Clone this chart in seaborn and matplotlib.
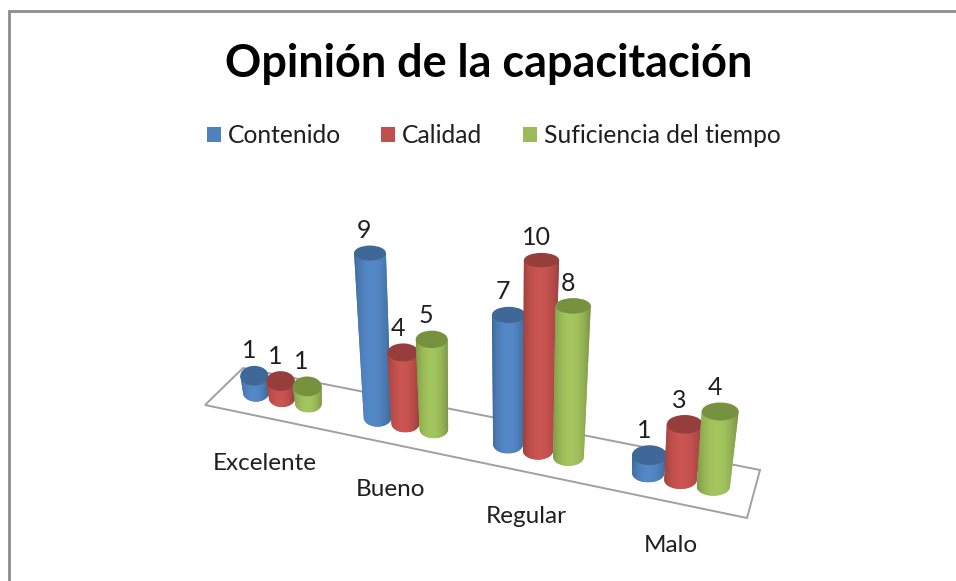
import numpy as np
import pandas as pd
import matplotlib
matplotlib.use("Agg")
import matplotlib.pyplot as plt
import seaborn as sns
from matplotlib.patches import Ellipse, Polygon, Rectangle

categorias = ["Excelente", "Bueno", "Regular", "Malo"]
series = ["Contenido", "Calidad", "Suficiencia del tiempo"]
contenido = [1, 9, 7, 1]
calidad = [1, 4, 10, 3]
suficiencia = [1, 5, 8, 4]

colores = ["#4F81BD", "#C0504D", "#9BBB59"]
colores_tapa = ["#3F6797", "#953E3B", "#76923F"]

sns.set_theme(style="white")
plt.rcParams["font.family"] = ["Lato", "DejaVu Sans"]

df = pd.DataFrame({
    "categoria": categorias * 3,
    "serie": [s for s in series for _ in categorias],
    "valor": contenido + calidad + suficiencia,
})

fig = plt.figure(figsize=(9.56, 5.81), dpi=100)

# bars are built by seaborn on a hidden axes, then redrawn as cylinders
ax_datos = fig.add_axes([0, 0, 1, 1])
sns.barplot(data=df, x="categoria", y="valor", hue="serie", order=categorias,
            hue_order=series, palette=colores, width=0.66, gap=0, saturation=1,
            legend=False, ax=ax_datos)
barras = sorted(ax_datos.patches, key=lambda r: r.get_x())
ax_datos.set_visible(False)

# canvas in image pixels
ax = fig.add_axes([0, 0, 1, 1])
ax.set_axis_off()


# perspective from (category position, value) to pixels
def proyectar(u, v):
    w = 1 - 0.034 * u - 0.0067 * v
    x = (282 + 109.7 * u - 3.3 * v) / w
    y = (398 + 11 * u - 19.5 * v) / w
    return x, y


def color_sombra(hex_color):
    base = np.array(matplotlib.colors.to_rgb(hex_color))
    pos = np.linspace(0, 1, 64)
    factor = 0.80 + 0.28 * np.sin(np.pi * pos) ** 0.7
    factor = factor - 0.05 * pos
    return np.clip(base[None, None, :] * factor[None, :, None], 0, 1)


# outer frame
ax.plot([9, 9, 956], [581, 11, 11], color="#8C8C8C", lw=2, solid_joinstyle="miter", zorder=1)

# floor
ax.add_patch(Polygon([(205, 405), (243, 368), (760, 470), (747, 518)], closed=True,
                     facecolor="white", edgecolor="#A0A0A0", lw=1.4, zorder=2))

orden = 3
for rect in barras:
    u = rect.get_x() + rect.get_width() / 2
    valor = rect.get_height()
    ancho = rect.get_width() / 2
    serie_i = [c.lower() for c in colores].index(matplotlib.colors.to_hex(rect.get_facecolor()[:3]))

    xb, yb = proyectar(u, 0)
    xt, yt = proyectar(u, valor)
    rb = (proyectar(u + ancho, 0)[0] - proyectar(u - ancho, 0)[0]) / 2
    rt = (proyectar(u + ancho, valor)[0] - proyectar(u - ancho, valor)[0]) / 2 * 1.08
    ry_b = 9.0
    ry_t = 10.2 - 0.3 * valor

    t = np.linspace(np.pi, 0, 40)
    xs = np.r_[xb + rb * np.cos(t), xt + rt * np.cos(t[::-1])]
    ys = np.r_[yb + ry_b * np.sin(t), yt + 0 * t]
    cuerpo = Polygon(np.c_[xs, ys], closed=True, facecolor=colores[serie_i],
                     edgecolor="none", zorder=orden)
    ax.add_patch(cuerpo)
    img = ax.imshow(color_sombra(colores[serie_i]), aspect="auto", zorder=orden + 0.1,
                    extent=(min(xb - rb, xt - rt), max(xb + rb, xt + rt), yb + ry_b, yt),
                    interpolation="bilinear")
    img.set_clip_path(cuerpo)
    ax.add_patch(Ellipse((xt, yt), 2 * rt, 2 * ry_t, facecolor=colores_tapa[serie_i],
                         edgecolor="none", zorder=orden + 0.2))
    ax.text(xt - 5.5, yt - ry_t - 15, f"{valor:.0f}", ha="center", va="center", fontsize=18,
            color="#1F1F1F", zorder=50)
    orden += 1

for i, cat in enumerate(categorias):
    x0, y0 = proyectar(i, 0)
    ax.text(x0 - 17 + 2.4 * i, y0 + 66, cat, ha="center", va="center", fontsize=17.5,
            color="#1F1F1F", zorder=50)

# title
ax.text(489, 64, "Opinión de la capacitación", ha="center", va="center", fontsize=32.4,
        fontweight="bold", color="black", zorder=50)

# legend
leyenda_x = [207, 381, 523]
for x, s, c in zip(leyenda_x, series, colores):
    ax.add_patch(Rectangle((x, 127), 14, 15, facecolor=c, edgecolor="none", zorder=50))
    ax.text(x + 21, 135.5, s, ha="left", va="center", fontsize=17.7, color="#1F1F1F", zorder=50)

ax.set_xlim(0, 956)
ax.set_ylim(581, 0)

fig.savefig("out.png", dpi=100, facecolor="white")
